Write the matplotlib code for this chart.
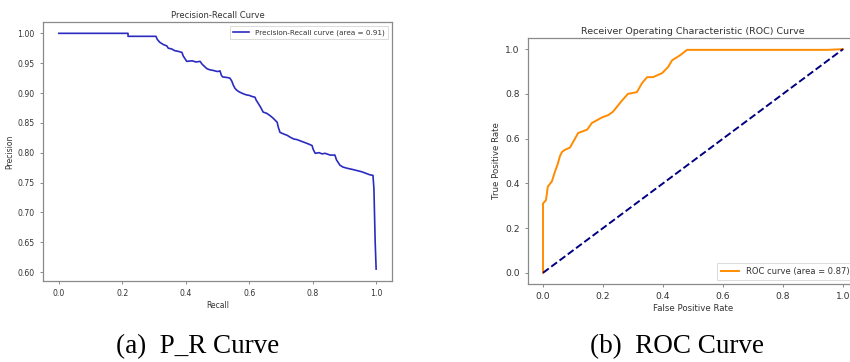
import numpy as np
import matplotlib
matplotlib.use("Agg")
import matplotlib.pyplot as plt

# precision-recall curve points
recall = [0.0, 0.218, 0.218, 0.306, 0.31, 0.318, 0.33, 0.34, 0.345, 0.355, 0.365, 0.375,
          0.388, 0.392, 0.403, 0.42, 0.432, 0.445, 0.452, 0.466, 0.475, 0.485, 0.5,
          0.508, 0.512, 0.516, 0.53, 0.539, 0.545, 0.55, 0.555, 0.56, 0.568, 0.58,
          0.59, 0.6, 0.61, 0.618, 0.622, 0.628, 0.636, 0.644, 0.655, 0.666, 0.675,
          0.688, 0.692, 0.697, 0.71, 0.72, 0.729, 0.74, 0.75, 0.76, 0.77, 0.785,
          0.798, 0.802, 0.808, 0.82, 0.83, 0.839, 0.855, 0.87, 0.875, 0.886, 0.895,
          0.908, 0.925, 0.94, 0.955, 0.97, 0.98, 0.99, 0.993, 0.997, 1.0]
precision = [1.0, 1.0, 0.995, 0.995, 0.99, 0.985, 0.981, 0.979, 0.975, 0.974, 0.971, 0.97,
             0.968, 0.962, 0.953, 0.954, 0.952, 0.953, 0.948, 0.941, 0.939, 0.938, 0.936,
             0.937, 0.93, 0.927, 0.926, 0.925, 0.92, 0.913, 0.908, 0.905, 0.902, 0.899,
             0.897, 0.896, 0.894, 0.893, 0.888, 0.883, 0.876, 0.868, 0.866, 0.862, 0.858,
             0.851, 0.842, 0.834, 0.831, 0.829, 0.826, 0.823, 0.822, 0.82, 0.818, 0.815,
             0.812, 0.805, 0.799, 0.8, 0.798, 0.799, 0.796, 0.796, 0.788, 0.779, 0.776,
             0.774, 0.772, 0.77, 0.768, 0.765, 0.763, 0.762, 0.74, 0.65, 0.605]
pr_area = 0.91

# ROC curve points
fpr = [0.0, 0.0, 0.01, 0.016, 0.03, 0.038, 0.05, 0.056, 0.063, 0.073, 0.09, 0.117,
       0.147, 0.163, 0.19, 0.197, 0.217, 0.233, 0.263, 0.283, 0.313, 0.33, 0.347,
       0.367, 0.397, 0.417, 0.43, 0.457, 0.48, 0.947, 1.0]
tpr = [0.0, 0.31, 0.325, 0.385, 0.41, 0.445, 0.49, 0.52, 0.54, 0.55, 0.56, 0.625,
       0.64, 0.67, 0.69, 0.695, 0.705, 0.72, 0.77, 0.8, 0.808, 0.848, 0.875,
       0.875, 0.893, 0.92, 0.95, 0.973, 0.997, 0.997, 1.0]
roc_area = 0.87

W, H = 850, 362
fig = plt.figure(figsize=(8.5, 3.62), dpi=100)
fig.patch.set_facecolor("white")

txt = "#333333"
spine = "#8a8a8a"


def style(ax, fs):
    for s in ax.spines.values():
        s.set_color(spine)
        s.set_linewidth(0.9)
    ax.tick_params(colors=spine, labelcolor=txt, labelsize=fs, length=2.5, width=0.7)


# (a) precision-recall
ax1 = fig.add_axes([43 / W, (H - 281) / H, 349 / W, 259 / H])
ax1.plot(recall, precision, color="#2b2bc0", lw=1.2,
         label="Precision-Recall curve (area = %0.2f)" % pr_area)
ax1.set_xlim(-0.05, 1.05)
ax1.set_ylim(0.585, 1.019)
ax1.set_xticks(np.arange(0, 1.01, 0.2))
ax1.set_yticks(np.arange(0.60, 1.001, 0.05))
ax1.set_xlabel("Recall", fontsize=5.5, color=txt, labelpad=2)
ax1.set_ylabel("Precision", fontsize=5.5, color=txt, labelpad=2)
ax1.set_title("Precision-Recall Curve", fontsize=6, color=txt, pad=3)
style(ax1, 5.6)
leg = ax1.legend(loc="upper right", fontsize=5.2, frameon=True, fancybox=False,
                 handlelength=2.2, borderpad=0.5)
leg.get_frame().set_edgecolor("#cccccc")
leg.get_frame().set_linewidth(0.6)
for t in leg.get_texts():
    t.set_color(txt)

# (b) ROC
ax2 = fig.add_axes([528 / W, (H - 284) / H, 330 / W, 246 / H])
ax2.plot(fpr, tpr, color="darkorange", lw=1.4,
         label="ROC curve (area = %0.2f)" % roc_area)
ax2.plot([0, 1], [0, 1], color="navy", lw=1.4, linestyle="--")
ax2.set_xlim(-0.05, 1.05)
ax2.set_ylim(-0.05, 1.05)
ax2.set_xticks(np.arange(0, 1.01, 0.2))
ax2.set_yticks(np.arange(0, 1.01, 0.2))
ax2.set_xlabel("False Positive Rate", fontsize=6.2, color=txt, labelpad=2)
ax2.set_ylabel("True Positive Rate", fontsize=6.2, color=txt, labelpad=3)
ax2.set_title("Receiver Operating Characteristic (ROC) Curve", fontsize=6.8, color=txt, pad=3)
style(ax2, 6.6)
leg2 = ax2.legend(loc="lower right", fontsize=6, frameon=True, fancybox=False,
                  handlelength=2.2, borderpad=0.5)
leg2.get_frame().set_edgecolor("#cccccc")
leg2.get_frame().set_linewidth(0.6)
for t in leg2.get_texts():
    t.set_color(txt)

# captions
cap_font = ["Liberation Serif", "DejaVu Serif"]
fig.text(198 / W, 1 - 347 / H, "(a)  P_R Curve", ha="center", va="center",
         fontsize=19.5, family=cap_font, color="black")
fig.text(677 / W, 1 - 347 / H, "(b)  ROC Curve", ha="center", va="center",
         fontsize=19.5, family=cap_font, color="black")

fig.savefig("out.png", dpi=100)
